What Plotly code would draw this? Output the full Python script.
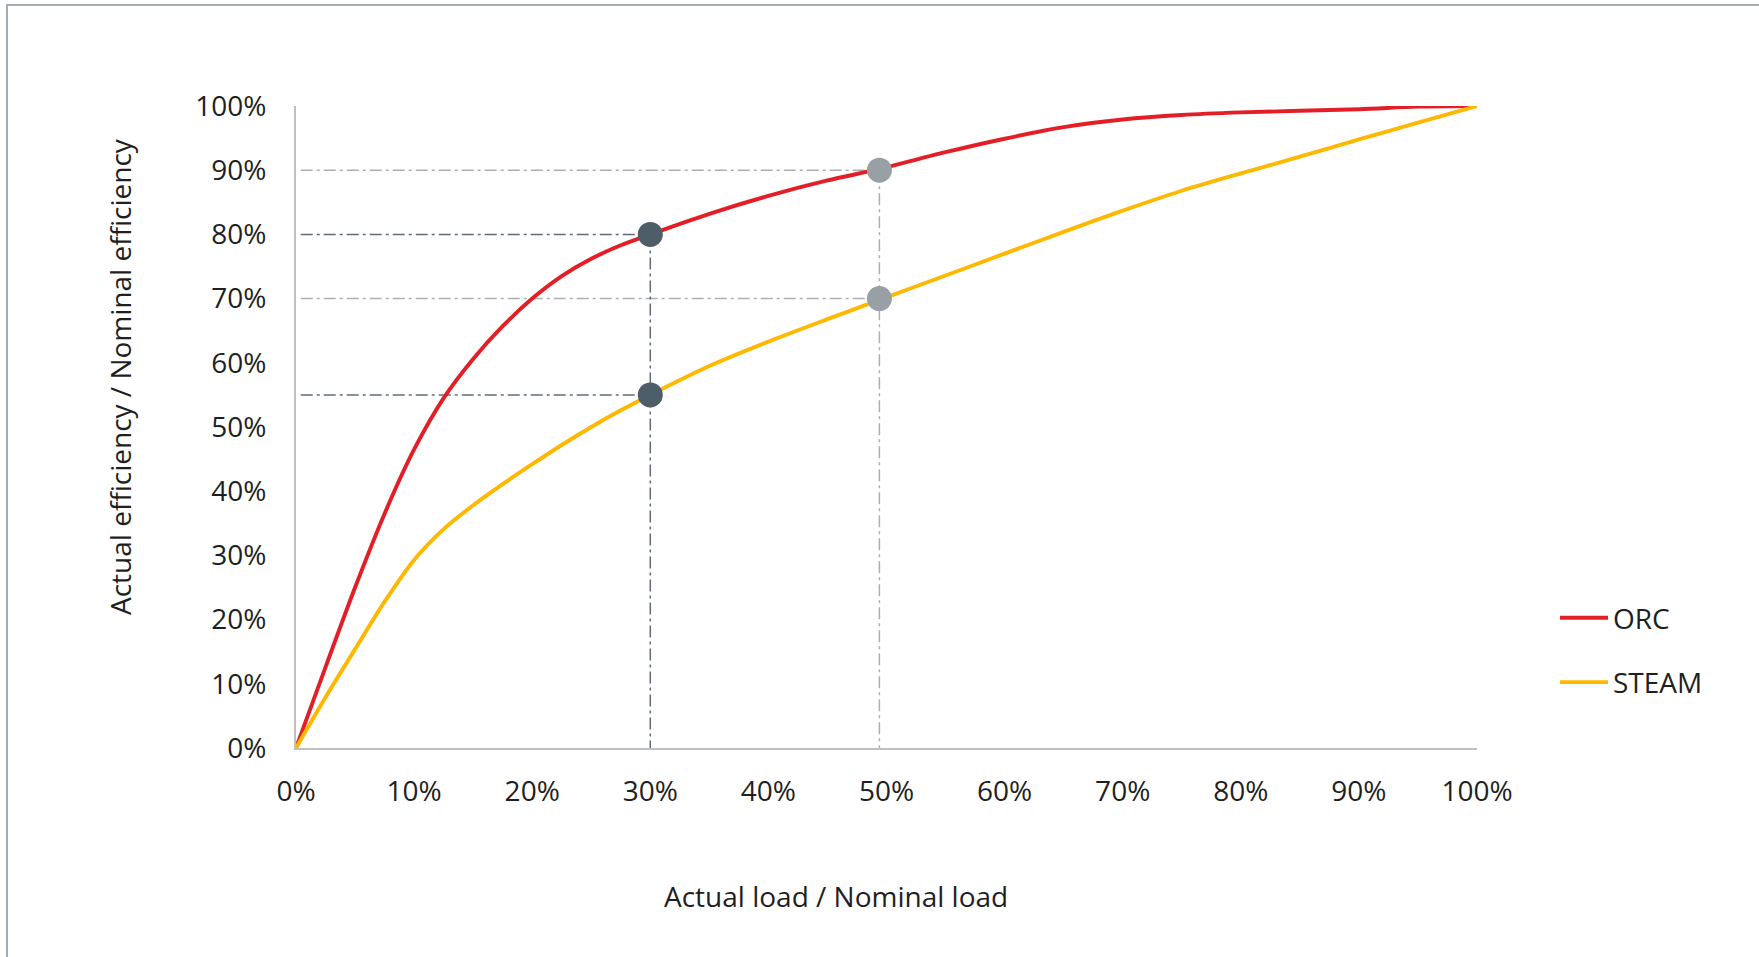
import plotly.graph_objects as go

# ---- data (percent) ----
orc_x = [0, 2.5, 5, 7.5, 10, 12.5, 15, 17.5, 20, 22.5, 25, 27.5, 30, 35, 40, 45, 49.4, 55, 60, 65, 70, 75, 80, 90, 95, 100]
orc_y = [0, 12.6, 25, 36.5, 46.5, 54.5, 60.6, 65.7, 70, 73.5, 76.2, 78.3, 80, 83.2, 86, 88.4, 90.2, 92.8, 94.9, 96.7, 97.9, 98.6, 99, 99.5, 99.9, 100]

steam_x = [0, 2.5, 5, 7.5, 10, 12.5, 15, 17.5, 20, 22.5, 25, 27.5, 30, 35, 40, 45, 49.4, 55, 60, 65, 70, 75, 80, 85, 90, 95, 100]
steam_y = [0, 7.9, 15.4, 22.8, 29.3, 34.1, 37.8, 41.1, 44.2, 47.2, 50, 52.6, 55, 59.5, 63.3, 66.8, 69.8, 73.6, 77, 80.4, 83.7, 86.8, 89.5, 92.1, 94.8, 97.4, 100]

dark_pts_x = [30, 30]
dark_pts_y = [80, 55]
grey_pts_x = [49.4, 49.4]
grey_pts_y = [90, 70]

tick_vals = [0, 10, 20, 30, 40, 50, 60, 70, 80, 90, 100]
tick_text = ["0%", "10%", "20%", "30%", "40%", "50%", "60%", "70%", "80%", "90%", "100%"]

series_names = ["ORC", "STEAM"]
x_title = "Actual load / Nominal load"
y_title = "Actual efficiency / Nominal efficiency"

RED = "#E31E26"
YEL = "#FFB800"
DARK = "#4E5E69"
GREY = "#98A0A5"
DARK_DASH = "#5F6D77"
GREY_DASH = "#A9B0B5"
DASH = "12px,4px,3px,4px"
FONT = "Open Sans"
TXT = "#1F1F1F"
FS = 28

fig = go.Figure()

def guide(xs, ys, color):
    fig.add_trace(go.Scatter(x=xs, y=ys, mode="lines", showlegend=False, hoverinfo="skip",
                             line=dict(color=color, width=1.5, dash=DASH), cliponaxis=False))

# guide lines (grey)
for gy in grey_pts_y:
    guide([0.4, grey_pts_x[0]], [gy, gy], GREY_DASH)
guide([grey_pts_x[0], grey_pts_x[0]], [max(grey_pts_y), -0.5], GREY_DASH)
# guide lines (dark)
for dy in dark_pts_y:
    guide([0.4, dark_pts_x[0]], [dy, dy], DARK_DASH)
guide([dark_pts_x[0], dark_pts_x[0]], [max(dark_pts_y), -0.5], DARK_DASH)

fig.add_trace(go.Scatter(x=orc_x, y=orc_y, mode="lines", name=series_names[0], legendgroup="a",
                         line=dict(color=RED, width=3.9, shape="spline", smoothing=0.8), cliponaxis=False))
fig.add_trace(go.Scatter(x=steam_x, y=steam_y, mode="lines", name=series_names[1], legendgroup="b",
                         line=dict(color=YEL, width=3.9, shape="spline", smoothing=0.8), cliponaxis=False))

fig.add_trace(go.Scatter(x=dark_pts_x, y=dark_pts_y, mode="markers", showlegend=False, hoverinfo="skip",
                         marker=dict(color=DARK, size=25, line=dict(width=0)), cliponaxis=False))
fig.add_trace(go.Scatter(x=grey_pts_x, y=grey_pts_y, mode="markers", showlegend=False, hoverinfo="skip",
                         marker=dict(color=GREY, size=25, line=dict(width=0)), cliponaxis=False))

axis_common = dict(range=[0, 100], showgrid=False, zeroline=False, showline=True,
                   linecolor="#BFBFBF", linewidth=2, ticks="", tickvals=tick_vals, ticktext=tick_text,
                   tickfont=dict(family=FONT, size=FS, color=TXT), fixedrange=True)

fig.update_xaxes(**axis_common, ticklabelstandoff=17)
fig.update_yaxes(**axis_common, ticklabelstandoff=22)

W, H = 1759, 957
L, R, T, B = 296, 282, 106, 209
pw, ph = W - L - R, H - T - B

def px(xp):
    return (xp - L) / pw

def py(yp):
    return (H - B - yp) / ph

fig.update_layout(
    width=W, height=H,
    margin=dict(l=L, r=R, t=T, b=B, pad=0),
    paper_bgcolor="white", plot_bgcolor="white",
    font=dict(family=FONT, color=TXT),
    showlegend=True,
    legend=dict(x=px(1555), y=py(650), xanchor="left", yanchor="middle",
                font=dict(family=FONT, size=FS, color=TXT), itemwidth=48,
                tracegroupgap=25, traceorder="grouped", bgcolor="rgba(0,0,0,0)"),
    annotations=[
        dict(text=x_title, xref="paper", yref="paper", x=px(836), y=py(896),
             xanchor="center", yanchor="middle", showarrow=False,
             font=dict(family=FONT, size=FS, color=TXT)),
        dict(text=y_title, xref="paper", yref="paper", x=px(120), y=py(377),
             xanchor="center", yanchor="middle", showarrow=False, textangle=-90,
             font=dict(family=FONT, size=FS, color=TXT)),
    ],
    shapes=[
        dict(type="rect", xref="paper", yref="paper", x0=px(7), x1=px(1800), y0=py(1000), y1=py(5),
             line=dict(color="#A4ADB3", width=2), fillcolor="rgba(0,0,0,0)", layer="below"),
    ],
)

fig.write_html("out.html", config={"displayModeBar": False},
               post_script="document.body.style.margin='0';document.body.style.overflow='hidden';")
